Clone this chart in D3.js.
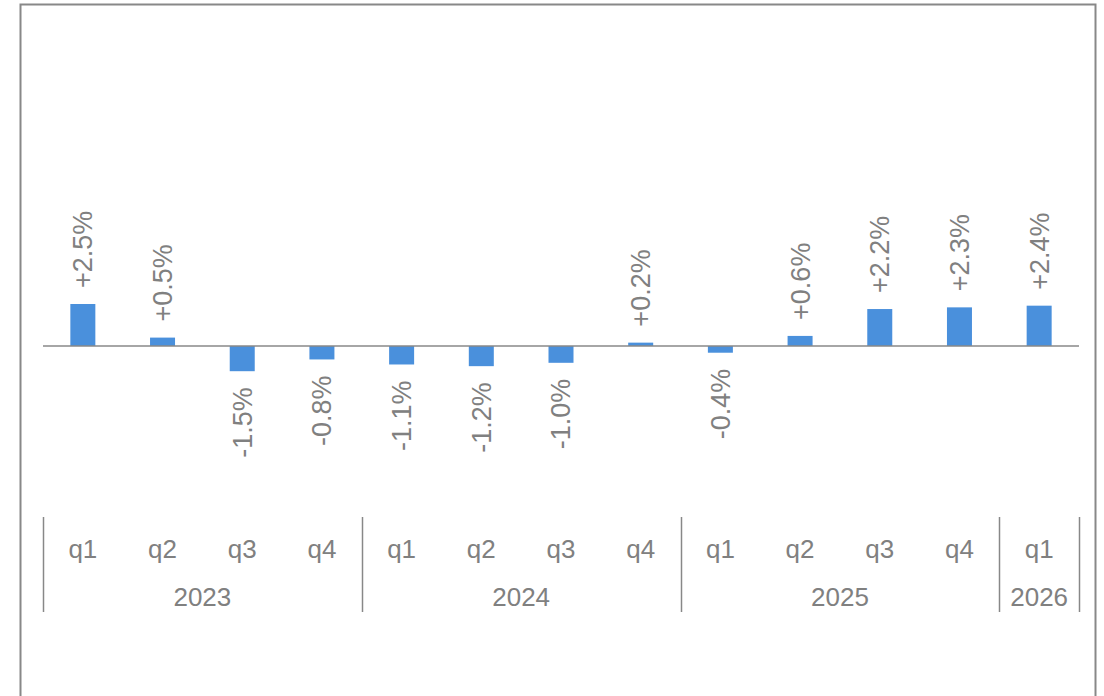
<!DOCTYPE html>
<html>
<head>
<meta charset="utf-8">
<script src="https://cdn.jsdelivr.net/npm/d3@7"></script>
<style>
  body { margin: 0; background: #fff; }
  text { font-family: "Liberation Sans", Arial, sans-serif; fill: #808080; }
</style>
</head>
<body>
<script>
var width = 1104,
	height = 696;

// data
var years = ["2023", "2023", "2023", "2023", "2024", "2024", "2024", "2024", "2025", "2025", "2025", "2025", "2026"];
var quarters = ["q1", "q2", "q3", "q4", "q1", "q2", "q3", "q4", "q1", "q2", "q3", "q4", "q1"];
var values = [2.5, 0.5, -1.5, -0.8, -1.1, -1.2, -1.0, 0.2, -0.4, 0.6, 2.2, 2.3, 2.4];
var yearLabels = ["2023", "2024", "2025", "2026"];

var keys = values.map(function(d, i) { return years[i] + "-" + quarters[i]; });

var left = 43, right = 1079, zeroY = 346, pxPerPct = 16.8;

var x = d3.scaleBand()
	.domain(keys)
	.range([left, right])
	.paddingInner(0)
	.paddingOuter(0);

var y = d3.scaleLinear()
	.domain([-5, 5])
	.range([zeroY + 5 * pxPerPct, zeroY - 5 * pxPerPct]);

var fmt = d3.formatLocale({decimal: ".", thousands: ",", grouping: [3], currency: ["", ""], minus: "-"}).format("+.1f");

var svg = d3.select("body").append("svg")
	.attr("width", width)
	.attr("height", height);

// frame
svg.append("rect")
	.attr("x", 20.5).attr("y", 4.5)
	.attr("width", 1075).attr("height", 720)
	.attr("fill", "none")
	.attr("stroke", "#888")
	.attr("stroke-width", 2);

var barW = 25;

svg.append("g").selectAll("rect")
	.data(values)
	.join("rect")
	.attr("x", function(d, i) { return x(keys[i]) + x.bandwidth() / 2 - barW / 2; })
	.attr("y", function(d) { return y(Math.max(0, d)); })
	.attr("width", barW)
	.attr("height", function(d) { return Math.abs(y(d) - y(0)); })
	.attr("fill", "#4a90dc");

// zero line
svg.append("line")
	.attr("x1", left).attr("x2", right)
	.attr("y1", y(0)).attr("y2", y(0))
	.attr("stroke", "#888")
	.attr("stroke-width", 1.5);

// value labels
svg.append("g").selectAll("text")
	.data(values)
	.join("text")
	.attr("transform", function(d, i) {
		var cx = x(keys[i]) + x.bandwidth() / 2;
		var cy = d >= 0 ? y(d) - 16 : y(d) + 16;
		return "translate(" + cx + "," + cy + ") rotate(-90)";
	})
	.attr("text-anchor", function(d) { return d >= 0 ? "start" : "end"; })
	.attr("dy", "0.35em")
	.style("font-size", "27px")
	.text(function(d) { return fmt(d) + "%"; });

// category axis: quarters
var axis = svg.append("g");
axis.selectAll("text.q")
	.data(keys)
	.join("text")
	.attr("class", "q")
	.attr("x", function(d) { return x(d) + x.bandwidth() / 2; })
	.attr("y", 549)
	.attr("dy", "0.35em")
	.attr("text-anchor", "middle")
	.style("font-size", "26px")
	.text(function(d, i) { return quarters[i]; });

// year groups
var groups = yearLabels.map(function(yr) {
	var ks = keys.filter(function(k, i) { return years[i] === yr; });
	return {year: yr, x0: x(ks[0]), x1: x(ks[ks.length - 1]) + x.bandwidth()};
});

axis.selectAll("text.yr")
	.data(groups)
	.join("text")
	.attr("class", "yr")
	.attr("x", function(d) { return (d.x0 + d.x1) / 2; })
	.attr("y", 597)
	.attr("dy", "0.35em")
	.attr("text-anchor", "middle")
	.style("font-size", "26px")
	.text(function(d) { return d.year; });

var seps = groups.map(function(g) { return g.x0; }).concat([groups[groups.length - 1].x1]);
axis.selectAll("line.sep")
	.data(seps)
	.join("line")
	.attr("class", "sep")
	.attr("x1", function(d) { return Math.round(d) + 0.5; })
	.attr("x2", function(d) { return Math.round(d) + 0.5; })
	.attr("y1", 517).attr("y2", 612)
	.attr("stroke", "#888")
	.attr("stroke-width", 1.5);
</script>
</body>
</html>
